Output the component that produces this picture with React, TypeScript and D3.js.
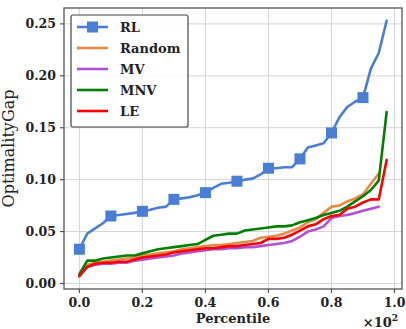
import { useEffect, useRef } from 'react';
import * as d3 from 'd3';

// percentile (in units of 10^2), step 0.025
const percentiles = d3.range(40).map(i => i * 0.025);

const rlGap = [
  0.033, 0.048, 0.053, 0.058, 0.065, 0.066, 0.067, 0.068, 0.0695, 0.071,
  0.073, 0.074, 0.081, 0.082, 0.083, 0.085, 0.0875, 0.092, 0.096, 0.097,
  0.0985, 0.100, 0.101, 0.105, 0.111, 0.111, 0.112, 0.112, 0.120, 0.131,
  0.133, 0.135, 0.145, 0.160, 0.170, 0.175, 0.179, 0.207, 0.222, 0.253,
];
const randomGap = [
  0.008, 0.018, 0.020, 0.021, 0.022, 0.023, 0.024, 0.025, 0.027, 0.028,
  0.029, 0.030, 0.031, 0.033, 0.034, 0.035, 0.036, 0.037, 0.037, 0.038,
  0.039, 0.040, 0.041, 0.044, 0.045, 0.046, 0.048, 0.051, 0.054, 0.059,
  0.062, 0.068, 0.074, 0.075, 0.079, 0.082, 0.086, 0.096, 0.106,
];
const mvGap = [
  0.008, 0.016, 0.018, 0.019, 0.019, 0.020, 0.020, 0.022, 0.023, 0.024,
  0.025, 0.026, 0.027, 0.029, 0.030, 0.031, 0.032, 0.033, 0.033, 0.034,
  0.034, 0.035, 0.035, 0.036, 0.037, 0.038, 0.039, 0.041, 0.045, 0.050,
  0.052, 0.055, 0.063, 0.065, 0.066, 0.068, 0.070, 0.072, 0.074,
];
const mnvGap = [
  0.009, 0.022, 0.022, 0.024, 0.025, 0.026, 0.027, 0.027, 0.029, 0.031,
  0.033, 0.034, 0.035, 0.036, 0.037, 0.038, 0.042, 0.046, 0.047, 0.048,
  0.048, 0.051, 0.052, 0.053, 0.054, 0.055, 0.055, 0.056, 0.059, 0.061,
  0.063, 0.066, 0.068, 0.070, 0.074, 0.079, 0.084, 0.090, 0.099, 0.165,
];
const leGap = [
  0.007, 0.016, 0.019, 0.020, 0.020, 0.021, 0.021, 0.023, 0.025, 0.026,
  0.027, 0.028, 0.030, 0.031, 0.032, 0.033, 0.034, 0.034, 0.035, 0.036,
  0.036, 0.037, 0.038, 0.039, 0.043, 0.043, 0.044, 0.047, 0.051, 0.055,
  0.057, 0.062, 0.065, 0.066, 0.072, 0.074, 0.078, 0.081, 0.081, 0.119,
];

const seriesNames = ['RL', 'Random', 'MV', 'MNV', 'LE'];
const seriesColors = ['#4a7dd6', '#e68a45', '#b150d6', '#008000', '#ff0000'];
const seriesValues = [rlGap, randomGap, mvGap, mnvGap, leGap];

const xTicks = [0, 0.2, 0.4, 0.6, 0.8, 1.0];
const yTicks = [0, 0.05, 0.1, 0.15, 0.2, 0.25];

const W = 406;
const H = 329;
const FONT = 'DejaVu Serif';

export default function App() {
  const svgRef = useRef<SVGSVGElement>(null);

  useEffect(() => {
    if (!svgRef.current) return;
    const svg = d3.select(svgRef.current);
    svg.selectAll('*').remove();

    const margin = { top: 8, right: 4, bottom: 40, left: 64 };
    const innerW = W - margin.left - margin.right;
    const innerH = H - margin.top - margin.bottom;

    const x = d3.scaleLinear().domain([-0.04875, 1.02375]).range([0, innerW]);
    const y = d3.scaleLinear().domain([-0.0053, 0.2653]).range([innerH, 0]);

    const g = svg.append('g').attr('transform', `translate(${margin.left},${margin.top})`);

    // grid
    g.selectAll('line.xgrid').data(xTicks).join('line')
      .attr('x1', d => x(d)).attr('x2', d => x(d))
      .attr('y1', 0).attr('y2', innerH)
      .attr('stroke', '#d4d4d4').attr('stroke-width', 1);
    g.selectAll('line.ygrid').data(yTicks).join('line')
      .attr('x1', 0).attr('x2', innerW)
      .attr('y1', d => y(d)).attr('y2', d => y(d))
      .attr('stroke', '#d4d4d4').attr('stroke-width', 1);

    // series
    const line = d3.line<number>()
      .x((_, i) => x(percentiles[i]))
      .y(d => y(d));

    seriesValues.forEach((vals, si) => {
      g.append('path')
        .datum(vals)
        .attr('d', line)
        .attr('fill', 'none')
        .attr('stroke', seriesColors[si])
        .attr('stroke-width', 2.6)
        .attr('stroke-linejoin', 'round')
        .attr('stroke-linecap', 'round');
    });

    // RL markers every 4th point
    const ms = 11;
    g.selectAll('rect.marker')
      .data(rlGap.map((v, i) => ({ v, i })).filter(d => d.i % 4 === 0))
      .join('rect')
      .attr('x', d => x(percentiles[d.i]) - ms / 2)
      .attr('y', d => y(d.v) - ms / 2)
      .attr('width', ms).attr('height', ms)
      .attr('fill', seriesColors[0]);

    // frame
    g.append('rect')
      .attr('x', 0).attr('y', 0).attr('width', innerW).attr('height', innerH)
      .attr('fill', 'none').attr('stroke', '#555').attr('stroke-width', 1.3);

    // ticks
    g.selectAll('line.xtick').data(xTicks).join('line')
      .attr('x1', d => x(d)).attr('x2', d => x(d))
      .attr('y1', innerH).attr('y2', innerH + 4)
      .attr('stroke', '#555').attr('stroke-width', 1.2);
    g.selectAll('line.ytick').data(yTicks).join('line')
      .attr('x1', -4).attr('x2', 0)
      .attr('y1', d => y(d)).attr('y2', d => y(d))
      .attr('stroke', '#555').attr('stroke-width', 1.2);

    g.selectAll('text.xlabel').data(xTicks).join('text')
      .attr('x', d => x(d)).attr('y', innerH + 18)
      .attr('text-anchor', 'middle')
      .attr('font-family', FONT).attr('font-weight', 'bold').attr('font-size', 12.5)
      .attr('fill', '#222')
      .text(d => d.toFixed(1));
    g.selectAll('text.ylabel').data(yTicks).join('text')
      .attr('x', -8).attr('y', d => y(d) + 4.5)
      .attr('text-anchor', 'end')
      .attr('font-family', FONT).attr('font-weight', 'bold').attr('font-size', 12.5)
      .attr('fill', '#222')
      .text(d => d.toFixed(2));

    // axis titles
    svg.append('text')
      .attr('x', margin.left + innerW / 2).attr('y', 323)
      .attr('text-anchor', 'middle')
      .attr('font-family', FONT).attr('font-weight', 'bold').attr('font-size', 13)
      .attr('fill', '#222')
      .text('Percentile');
    // y title sits partly outside the canvas, as in the source figure
    svg.append('text')
      .attr('transform', `translate(14,${margin.top + innerH / 2}) rotate(-90)`)
      .attr('text-anchor', 'middle')
      .attr('font-family', FONT).attr('font-size', 16)
      .attr('fill', '#222')
      .text('OptimalityGap');

    const off = svg.append('text')
      .attr('x', 398).attr('y', 327)
      .attr('text-anchor', 'end')
      .attr('font-family', FONT).attr('font-weight', 'bold').attr('font-size', 13)
      .attr('fill', '#222');
    off.append('tspan').text('\u00d710');
    off.append('tspan').attr('dy', -6).attr('font-size', 9).text('2');

    // legend
    const lg = svg.append('g').attr('transform', 'translate(71,15)');
    lg.append('rect')
      .attr('width', 117).attr('height', 112).attr('rx', 2)
      .attr('fill', 'white').attr('fill-opacity', 0.85)
      .attr('stroke', '#444').attr('stroke-width', 1.2);
    seriesNames.forEach((name, i) => {
      const ly = 12 + i * 21;
      lg.append('line')
        .attr('x1', 6).attr('x2', 37).attr('y1', ly).attr('y2', ly)
        .attr('stroke', seriesColors[i]).attr('stroke-width', 2.6);
      if (i === 0) {
        lg.append('rect')
          .attr('x', 21.5 - ms / 2).attr('y', ly - ms / 2)
          .attr('width', ms).attr('height', ms)
          .attr('fill', seriesColors[0]);
      }
      lg.append('text')
        .attr('x', 49).attr('y', ly + 5)
        .attr('font-family', FONT).attr('font-weight', 'bold').attr('font-size', 13)
        .attr('fill', '#222')
        .text(name);
    });
  }, []);

  return (
    <svg ref={svgRef} width={W} height={H}
      style={{ position: 'absolute', left: 0, top: 0, background: 'white' }} />
  );
}
